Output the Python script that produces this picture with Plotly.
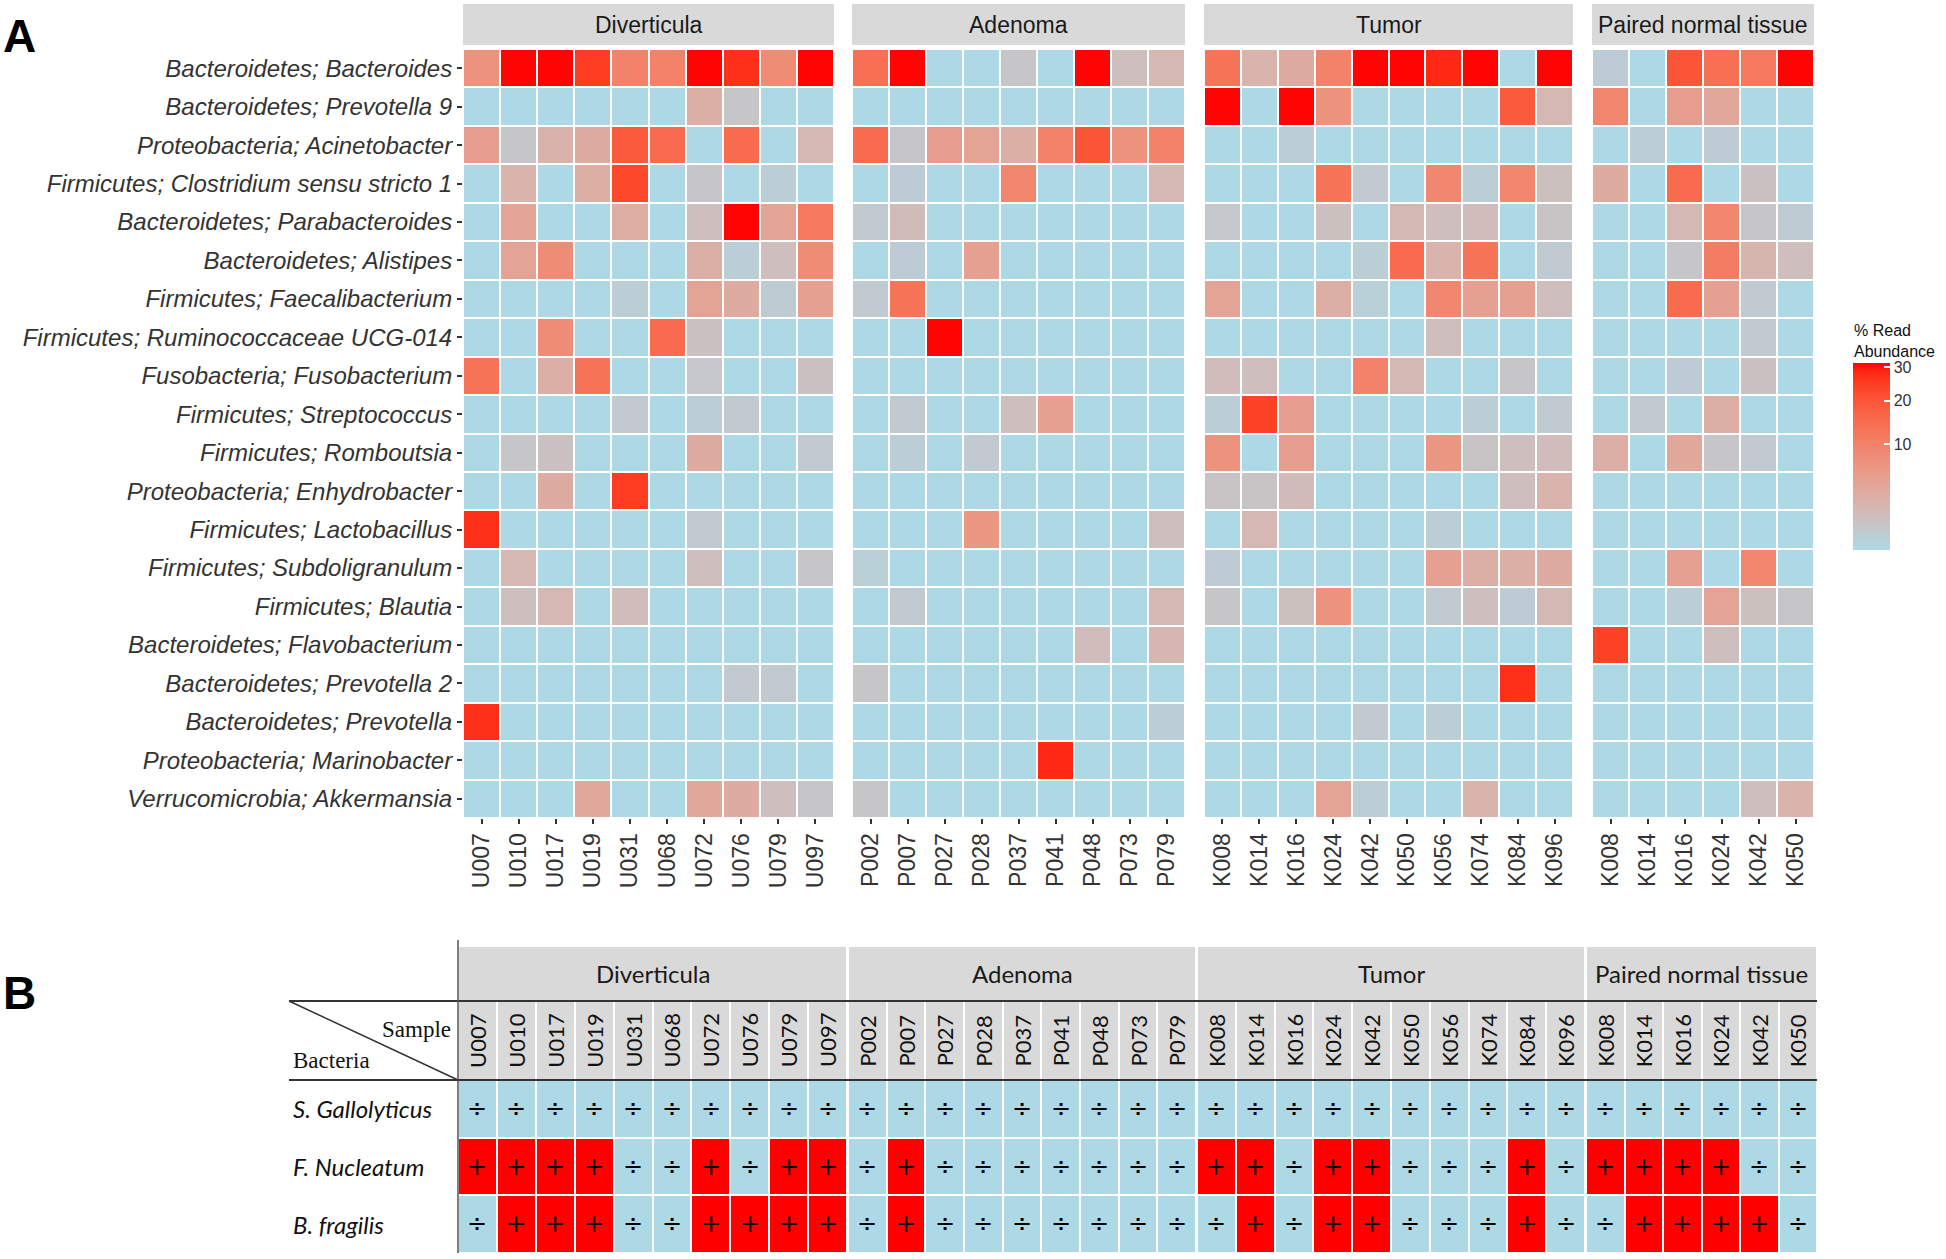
import math
import plotly.graph_objects as go

# ---------------- DATA ----------------
taxa = [
    "Bacteroidetes; Bacteroides",
    "Bacteroidetes; Prevotella 9",
    "Proteobacteria; Acinetobacter",
    "Firmicutes; Clostridium sensu stricto 1",
    "Bacteroidetes; Parabacteroides",
    "Bacteroidetes; Alistipes",
    "Firmicutes; Faecalibacterium",
    "Firmicutes; Ruminococcaceae UCG-014",
    "Fusobacteria; Fusobacterium",
    "Firmicutes; Streptococcus",
    "Firmicutes; Romboutsia",
    "Proteobacteria; Enhydrobacter",
    "Firmicutes; Lactobacillus",
    "Firmicutes; Subdoligranulum",
    "Firmicutes; Blautia",
    "Bacteroidetes; Flavobacterium",
    "Bacteroidetes; Prevotella 2",
    "Bacteroidetes; Prevotella",
    "Proteobacteria; Marinobacter",
    "Verrucomicrobia; Akkermansia",
]

groups = ["Diverticula", "Adenoma", "Tumor", "Paired normal tissue"]

div_samples = ["U007", "U010", "U017", "U019", "U031", "U068", "U072", "U076", "U079", "U097"]
aden_samples = ["P002", "P007", "P027", "P028", "P037", "P041", "P048", "P073", "P079"]
tumor_samples = ["K008", "K014", "K016", "K024", "K042", "K050", "K056", "K074", "K084", "K096"]
paired_samples = ["K008", "K014", "K016", "K024", "K042", "K050"]

# % read abundance (rows = taxa, columns = samples)
div_vals = [
    [7, 31, 31, 25, 10, 10, 31, 27, 8, 31],
    [0, 0, 0, 0, 0, 0, 2.5, 0.5, 0, 0],
    [5, 0.5, 2.2, 3, 19, 15, 0, 15, 0, 1.6],
    [0, 2, 0, 2.7, 23, 0, 0.5, 0, 0.15, 0],
    [0, 4, 0, 0, 2.7, 0, 1.0, 31, 4, 12],
    [0, 4, 8, 0, 0, 0, 2.5, 0.15, 1.0, 8],
    [0, 0, 0, 0, 0.15, 0, 4, 3, 0.25, 4.5],
    [0, 0, 8, 0, 0, 15, 0.8, 0, 0, 0],
    [13, 0, 2.5, 13, 0, 0, 0.4, 0, 0, 0.8],
    [0, 0, 0, 0, 0.3, 0, 0.15, 0.3, 0, 0],
    [0, 0.5, 0.8, 0, 0, 0, 3, 0, 0, 0.3],
    [0, 0, 3, 0, 25, 0, 0, 0, 0, 0],
    [27, 0, 0, 0, 0, 0, 0.3, 0, 0, 0],
    [0, 1.6, 0, 0, 0, 0, 1.0, 0, 0, 0.5],
    [0, 1.0, 1.6, 0, 1.2, 0, 0, 0, 0, 0],
    [0, 0, 0, 0, 0, 0, 0, 0, 0, 0],
    [0, 0, 0, 0, 0, 0, 0, 0.3, 0.3, 0],
    [27, 0, 0, 0, 0, 0, 0, 0, 0, 0],
    [0, 0, 0, 0, 0, 0, 0, 0, 0, 0],
    [0, 0, 0, 3.5, 0, 0, 3.5, 3, 1.0, 0.5],
]

aden_vals = [
    [14, 31, 0, 0, 0.5, 0, 31, 1.0, 1.6],
    [0, 0, 0, 0, 0, 0, 0, 0, 0],
    [15, 0.5, 5, 4, 2.5, 10, 20, 7, 10],
    [0, 0.2, 0, 0, 9, 0, 0, 0, 1.6],
    [0.3, 1.3, 0, 0, 0, 0, 0, 0, 0],
    [0, 0.2, 0, 4.5, 0, 0, 0, 0, 0],
    [0.3, 13, 0, 0, 0, 0, 0, 0, 0],
    [0, 0, 31, 0, 0, 0, 0, 0, 0],
    [0, 0, 0, 0, 0, 0, 0, 0, 0],
    [0, 0.3, 0, 0, 1.0, 4.5, 0, 0, 0],
    [0, 0.15, 0, 0.3, 0, 0, 0, 0, 0],
    [0, 0, 0, 0, 0, 0, 0, 0, 0],
    [0, 0, 0, 6, 0, 0, 0, 0, 1.0],
    [0.1, 0, 0, 0, 0, 0, 0, 0, 0],
    [0, 0.3, 0, 0, 0, 0, 0, 0, 1.6],
    [0, 0, 0, 0, 0, 0, 1.2, 0, 1.7],
    [0.5, 0, 0, 0, 0, 0, 0, 0, 0],
    [0, 0, 0, 0, 0, 0, 0, 0, 0.15],
    [0, 0, 0, 0, 0, 28, 0, 0, 0],
    [0.5, 0, 0, 0, 0, 0, 0, 0, 0],
]

tumor_vals = [
    [13, 2, 3, 10, 31, 31, 28, 31, 0, 31],
    [31, 0, 31, 7, 0, 0, 0, 0, 19, 1.6],
    [0, 0, 0.15, 0, 0, 0, 0, 0, 0, 0],
    [0, 0, 0, 13, 0.3, 0, 9, 0.15, 9, 0.9],
    [0.4, 0, 0, 0.9, 0, 1.5, 1.0, 1.2, 0, 0.6],
    [0, 0, 0, 0, 0.15, 15, 2, 13, 0, 0.3],
    [4, 0, 0, 2.5, 0.1, 0, 9, 4.5, 4.5, 1.0],
    [0, 0, 0, 0, 0, 0, 1.0, 0, 0, 0],
    [1.2, 1.0, 0, 0, 10, 1.5, 0, 0, 0.5, 0],
    [0.15, 24, 5, 0, 0, 0, 0, 0.15, 0, 0.3],
    [7, 0, 5, 0, 0, 0, 6, 0.6, 1.0, 1.2],
    [0.6, 0.6, 1.3, 0, 0, 0, 0, 0, 1.0, 2],
    [0, 1.6, 0, 0, 0, 0, 0.15, 0, 0, 0],
    [0.2, 0, 0, 0, 0, 0, 4.5, 2.5, 2.5, 3],
    [0.5, 0, 0.9, 7, 0, 0, 0.3, 1.0, 0.2, 1.5],
    [0, 0, 0, 0, 0, 0, 0, 0, 0, 0],
    [0, 0, 0, 0, 0, 0, 0, 0, 27, 0],
    [0, 0, 0, 0, 0.3, 0, 0.15, 0, 0, 0],
    [0, 0, 0, 0, 0, 0, 0, 0, 0, 0],
    [0, 0, 0, 4, 0.15, 0, 0, 2, 0, 0],
]

paired_vals = [
    [0.2, 0, 20, 14, 12, 31],
    [9, 0, 5, 3.5, 0, 0],
    [0, 0.15, 0, 0.2, 0, 0],
    [3, 0, 15, 0, 0.8, 0],
    [0, 0, 1.5, 9, 0.5, 0.25],
    [0, 0, 0.5, 11, 1.8, 1.0],
    [0, 0, 15, 4.5, 0.3, 0],
    [0, 0, 0, 0, 0.3, 0],
    [0, 0, 0.2, 0, 0.8, 0],
    [0, 0.3, 0, 2.5, 0, 0],
    [2.5, 0, 3.5, 0.5, 0.3, 0],
    [0, 0, 0, 0, 0, 0],
    [0, 0, 0, 0, 0, 0],
    [0, 0, 4.5, 0, 9, 0],
    [0, 0, 0.15, 4, 0.9, 0.5],
    [24, 0, 0, 1.0, 0, 0],
    [0, 0, 0, 0, 0, 0],
    [0, 0, 0, 0, 0, 0],
    [0, 0, 0, 0, 0, 0],
    [0, 0, 0, 0, 1.0, 2],
]

colorbar_ticks = [10, 20, 30]
value_max = 31.3

# Panel B: PCR detection (+ / ÷)
bacteria_b = ["S. Gallolyticus", "F. Nucleatum", "B. fragilis"]
div_pcr = [
    ["÷"] * 10,
    ["+", "+", "+", "+", "÷", "÷", "+", "÷", "+", "+"],
    ["÷", "+", "+", "+", "÷", "÷", "+", "+", "+", "+"],
]
aden_pcr = [
    ["÷"] * 9,
    ["÷", "+", "÷", "÷", "÷", "÷", "÷", "÷", "÷"],
    ["÷", "+", "÷", "÷", "÷", "÷", "÷", "÷", "÷"],
]
tumor_pcr = [
    ["÷"] * 10,
    ["+", "+", "÷", "+", "+", "÷", "÷", "÷", "+", "÷"],
    ["÷", "+", "÷", "+", "+", "÷", "÷", "÷", "+", "÷"],
]
paired_pcr = [
    ["÷"] * 6,
    ["+", "+", "+", "+", "÷", "÷"],
    ["÷", "+", "+", "+", "+", "÷"],
]

# ---------------- COLOUR (CIELAB ramp like ggplot) ----------------
def _hex_rgb(h):
    h = h.lstrip("#")
    return [int(h[i:i + 2], 16) / 255 for i in (0, 2, 4)]

def _lin(c):
    return c / 12.92 if c <= 0.04045 else ((c + 0.055) / 1.055) ** 2.4

def _delin(c):
    c = max(0.0, min(1.0, c))
    return 12.92 * c if c <= 0.0031308 else 1.055 * c ** (1 / 2.4) - 0.055

WX, WY, WZ = 0.95047, 1.0, 1.08883

def _f(t):
    d = 6 / 29
    return t ** (1 / 3) if t > d ** 3 else t / (3 * d * d) + 4 / 29

def _finv(t):
    d = 6 / 29
    return t ** 3 if t > d else 3 * d * d * (t - 4 / 29)

def to_lab(h):
    r, g, b = [_lin(c) for c in _hex_rgb(h)]
    X = 0.4124564 * r + 0.3575761 * g + 0.1804375 * b
    Y = 0.2126729 * r + 0.7151522 * g + 0.0721750 * b
    Z = 0.0193339 * r + 0.1191920 * g + 0.9503041 * b
    fx, fy, fz = _f(X / WX), _f(Y / WY), _f(Z / WZ)
    return (116 * fy - 16, 500 * (fx - fy), 200 * (fy - fz))

def from_lab(L, a, b):
    fy = (L + 16) / 116
    fx = fy + a / 500
    fz = fy - b / 200
    X, Y, Z = WX * _finv(fx), WY * _finv(fy), WZ * _finv(fz)
    r = 3.2404542 * X - 1.5371385 * Y - 0.4985314 * Z
    g = -0.9692660 * X + 1.8760108 * Y + 0.0415560 * Z
    bb = 0.0556434 * X - 0.2040259 * Y + 1.0572252 * Z
    return "rgb(%d,%d,%d)" % tuple(round(_delin(c) * 255) for c in (r, g, bb))

lo, hi = to_lab("#ADD8E6"), to_lab("#FF0000")
NSTOP = 24
heat_scale = []
for i in range(NSTOP + 1):
    t = i / NSTOP
    heat_scale.append([t, from_lab(*[lo[k] + (hi[k] - lo[k]) * t for k in range(3)])])

# ---------------- LAYOUT HELPERS ----------------
W, H = 1946, 1259

def fx_(p):
    return p / W

def fy_(p):
    return 1 - p / H

def ax(k):
    return "" if k == 1 else str(k)

facets = [
    ("Diverticula", div_samples, div_vals, div_pcr, (463, 834), (458, 847)),
    ("Adenoma", aden_samples, aden_vals, aden_pcr, (852, 1185), (848, 1196)),
    ("Tumor", tumor_samples, tumor_vals, tumor_pcr, (1204, 1573), (1197, 1585)),
    ("Paired normal tissue", paired_samples, paired_vals, paired_pcr, (1592, 1814), (1586, 1817)),
]

A_Y = (49, 818)
A_STRIP = (4, 45)
B_STRIP = (946, 1001)
B_HEAD = (1001, 1080)
B_DATA = (1080, 1253)

FONT_A = "Liberation Sans, Arial, sans-serif"
FONT_B = "Lato, Open Sans, sans-serif"
FONT_SERIF = "Liberation Serif, DejaVu Serif, serif"

fig = go.Figure()
layout = dict(
    width=W, height=H, autosize=False,
    margin=dict(l=0, r=0, t=0, b=0),
    paper_bgcolor="white", plot_bgcolor="white",
    showlegend=False,
    coloraxis=dict(
        colorscale=heat_scale, cmin=0, cmax=math.sqrt(value_max),
        colorbar=dict(
            x=fx_(1853), xanchor="left", y=fy_(363), yanchor="top",
            len=187, lenmode="pixels", thickness=37, thicknessmode="pixels",
            xpad=0, ypad=0, outlinewidth=0,
            tickvals=[math.sqrt(v) for v in colorbar_ticks],
            ticktext=[str(v) for v in colorbar_ticks],
            ticks="inside", ticklen=6, tickwidth=2, tickcolor="white",
            tickfont=dict(family=FONT_A, size=16, color="#333333"),
        ),
    ),
)
shapes = []
annotations = []

for i, (name, samples, vals, pcr, adom, bdom) in enumerate(facets):
    ka = ax(i + 1)      # panel A axes
    kh = ax(i + 5)      # panel B header axes
    kd = ax(i + 9)      # panel B data axes

    # ---- Panel A heatmap ----
    z = [[math.sqrt(v) for v in row] for row in vals]
    fig.add_trace(go.Heatmap(
        z=z, x=samples, y=taxa, coloraxis="coloraxis",
        xgap=2, ygap=2, xaxis=f"x{ka}", yaxis=f"y{ka}",
        hoverinfo="skip",
    ))
    layout[f"xaxis{ka}"] = dict(
        domain=[fx_(adom[0]), fx_(adom[1])], anchor=f"y{ka}",
        type="category", categoryorder="array", categoryarray=samples,
        tickangle=-90, ticks="outside", ticklen=5, tickwidth=1.5, tickcolor="#333333",
        tickfont=dict(family=FONT_A, size=23, color="#333333"),
        showgrid=False, zeroline=False, showline=False,
    )
    layout[f"yaxis{ka}"] = dict(
        domain=[fy_(A_Y[1]), fy_(A_Y[0])], anchor=f"x{ka}",
        type="category", categoryorder="array", categoryarray=taxa,
        autorange="reversed",
        showgrid=False, zeroline=False, showline=False,
    )
    if i == 0:
        layout[f"yaxis{ka}"].update(
            tickvals=taxa, ticktext=[f"<i>{t}</i>" for t in taxa],
            ticks="outside", ticklen=5, tickwidth=1.5, tickcolor="#333333",
            tickfont=dict(family=FONT_A, size=24, color="#333333"),
        )
    else:
        layout[f"yaxis{ka}"].update(showticklabels=False, ticks="")

    # strip A
    shapes.append(dict(type="rect", xref=f"x{ka} domain", yref="paper",
                       x0=0, x1=1, y0=fy_(A_STRIP[1]), y1=fy_(A_STRIP[0]),
                       fillcolor="#D9D9D9", line=dict(width=0), layer="below"))
    annotations.append(dict(text=name, xref=f"x{ka} domain", yref="paper",
                            x=0.5, y=fy_((A_STRIP[0] + A_STRIP[1]) / 2),
                            showarrow=False, xanchor="center", yanchor="middle",
                            font=dict(family=FONT_A, size=23, color="#1A1A1A")))

    # ---- Panel B header ----
    fig.add_trace(go.Heatmap(
        z=[[0] * len(samples)], x=samples, y=["Sample"],
        colorscale=[[0, "#D9D9D9"], [1, "#D9D9D9"]], showscale=False,
        xgap=2, ygap=0, xaxis=f"x{kh}", yaxis=f"y{kh}", hoverinfo="skip",
    ))
    layout[f"xaxis{kh}"] = dict(
        domain=[fx_(bdom[0]), fx_(bdom[1])], anchor=f"y{kh}",
        type="category", categoryorder="array", categoryarray=samples,
        showticklabels=False, ticks="", showgrid=False, zeroline=False, showline=False,
    )
    layout[f"yaxis{kh}"] = dict(
        domain=[fy_(B_HEAD[1]), fy_(B_HEAD[0])], anchor=f"x{kh}",
        type="category", showticklabels=False, ticks="",
        showgrid=False, zeroline=False, showline=False,
    )
    for s in samples:
        annotations.append(dict(text=s, x=s, y=0.5, xref=f"x{kh}", yref=f"y{kh} domain",
                                textangle=-90, showarrow=False,
                                xanchor="center", yanchor="middle",
                                font=dict(family=FONT_B, size=22, color="#111111")))

    # ---- Panel B data ----
    fig.add_trace(go.Heatmap(
        z=[[1 if c == "+" else 0 for c in row] for row in pcr],
        x=samples, y=bacteria_b, text=pcr, texttemplate="%{text}",
        textfont=dict(family="DejaVu Sans, sans-serif", size=24, color="#000000"),
        colorscale=[[0, "#ADD8E6"], [1, "#FF0000"]], zmin=0, zmax=1,
        showscale=False, xgap=2, ygap=2,
        xaxis=f"x{kd}", yaxis=f"y{kd}", hoverinfo="skip",
    ))
    layout[f"xaxis{kd}"] = dict(
        domain=[fx_(bdom[0]), fx_(bdom[1])], anchor=f"y{kd}",
        type="category", categoryorder="array", categoryarray=samples,
        showticklabels=False, ticks="", showgrid=False, zeroline=False, showline=False,
    )
    layout[f"yaxis{kd}"] = dict(
        domain=[fy_(B_DATA[1]), fy_(B_DATA[0])], anchor=f"x{kd}",
        type="category", categoryorder="array", categoryarray=bacteria_b,
        autorange="reversed",
        showticklabels=False, ticks="", showgrid=False, zeroline=False, showline=False,
    )

    # strip B
    shapes.append(dict(type="rect", xref=f"x{kh} domain", yref="paper",
                       x0=0, x1=1, y0=fy_(B_STRIP[1]), y1=fy_(B_STRIP[0]),
                       fillcolor="#D9D9D9", line=dict(width=2, color="white"), layer="below"))
    annotations.append(dict(text=name, xref=f"x{kh} domain", yref="paper",
                            x=0.5, y=fy_((B_STRIP[0] + B_STRIP[1]) / 2),
                            showarrow=False, xanchor="center", yanchor="middle",
                            font=dict(family=FONT_B, size=24, color="#1A1A1A")))

# Panel B row labels
for b in bacteria_b:
    annotations.append(dict(text=f"<i>{b}</i>", x=fx_(291), y=b, xref="paper", yref="y9",
                            xanchor="left", yanchor="middle", showarrow=False,
                            font=dict(family=FONT_B, size=24, color="#111111")))

# Panel B corner header
annotations.append(dict(text="Sample", x=fx_(453), y=fy_(1029), xref="paper", yref="paper",
                        xanchor="right", yanchor="middle", showarrow=False,
                        font=dict(family=FONT_SERIF, size=23, color="#111111")))
annotations.append(dict(text="Bacteria", x=fx_(291), y=fy_(1060), xref="paper", yref="paper",
                        xanchor="left", yanchor="middle", showarrow=False,
                        font=dict(family=FONT_SERIF, size=23, color="#111111")))

# Panel B rules
line_col = "#333333"
shapes.append(dict(type="line", xref="paper", yref="y5 domain", x0=fx_(289), x1=fx_(1817),
                   y0=1, y1=1, line=dict(color=line_col, width=2), layer="above"))
shapes.append(dict(type="line", xref="paper", yref="y5 domain", x0=fx_(289), x1=fx_(1817),
                   y0=0, y1=0, line=dict(color=line_col, width=2), layer="above"))
shapes.append(dict(type="line", xref="x5 domain", yref="paper", x0=0, x1=0,
                   y0=fy_(1253), y1=fy_(940), line=dict(color="#555555", width=1.5), layer="above"))
shapes.append(dict(type="line", xref="paper", yref="y5 domain", x0=fx_(289), x1=fx_(458),
                   y0=1, y1=0, line=dict(color=line_col, width=1.5), layer="above"))

# Colorbar title
annotations.append(dict(text="% Read<br>Abundance", x=fx_(1852), y=fy_(320), xref="paper", yref="paper",
                        xanchor="left", yanchor="top", align="left", showarrow=False,
                        font=dict(family=FONT_A, size=16, color="#111111")))

# Panel letters
annotations.append(dict(text="<b>A</b>", x=fx_(1), y=fy_(36), xref="paper", yref="paper",
                        xanchor="left", yanchor="middle", showarrow=False,
                        font=dict(family=FONT_A, size=46, color="#000000")))
annotations.append(dict(text="<b>B</b>", x=fx_(1), y=fy_(993), xref="paper", yref="paper",
                        xanchor="left", yanchor="middle", showarrow=False,
                        font=dict(family=FONT_A, size=46, color="#000000")))

layout["shapes"] = shapes
layout["annotations"] = annotations
fig.update_layout(**layout)

fig.write_html("out.html", config={"displayModeBar": False},
               post_script="document.body.style.margin='0px';")
